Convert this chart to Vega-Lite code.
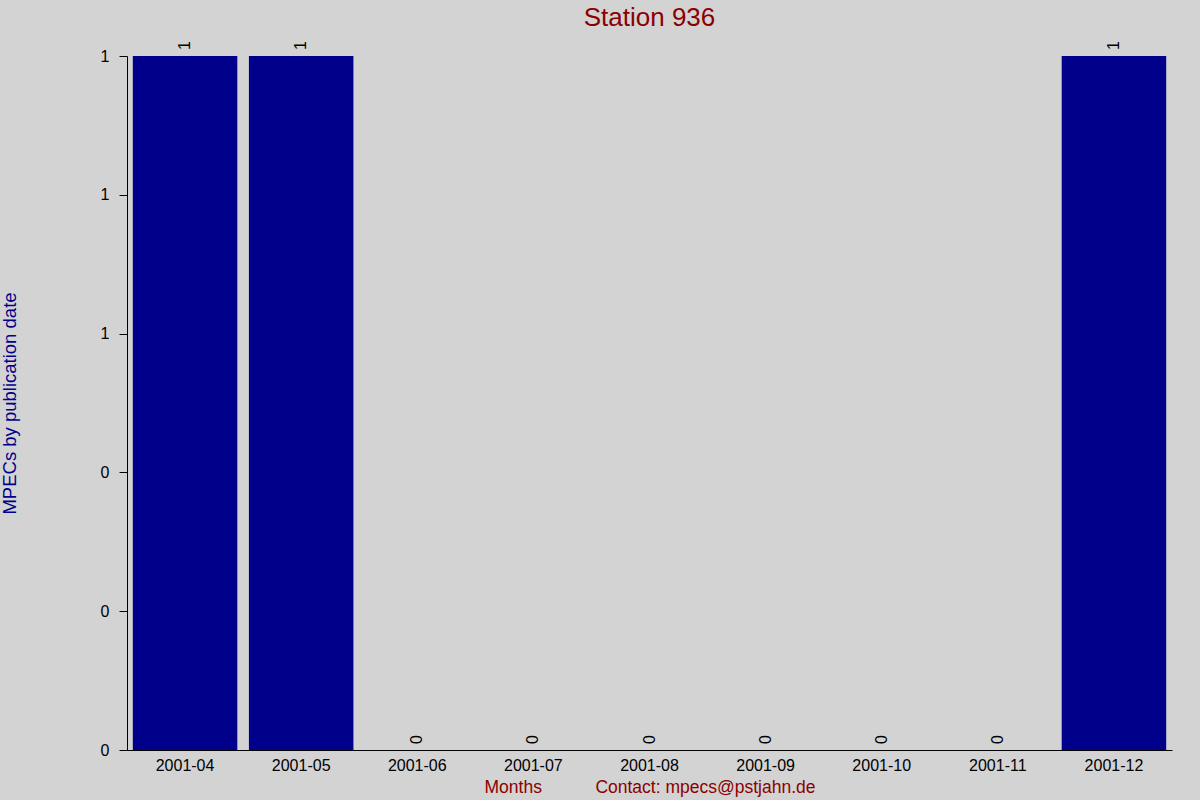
{
  "$schema": "https://vega.github.io/schema/vega-lite/v6.json",
  "autosize": "none",
  "width": 1045,
  "height": 694,
  "padding": {"left": 127, "top": 56, "right": 28, "bottom": 50},
  "background": "#d3d3d3",
  "title": {
    "text": "Station 936",
    "color": "#8b0000",
    "font": "Liberation Sans",
    "fontSize": 26,
    "fontWeight": "normal",
    "anchor": "middle",
    "offset": 10
  },
  "data": {
    "values": [
      {"month": "2001-04", "count": 1},
      {"month": "2001-05", "count": 1},
      {"month": "2001-06", "count": 0},
      {"month": "2001-07", "count": 0},
      {"month": "2001-08", "count": 0},
      {"month": "2001-09", "count": 0},
      {"month": "2001-10", "count": 0},
      {"month": "2001-11", "count": 0},
      {"month": "2001-12", "count": 1}
    ]
  },
  "encoding": {
    "x": {
      "field": "month",
      "type": "ordinal",
      "sort": null,
      "scale": {"paddingInner": 0.1, "paddingOuter": 0.05},
      "axis": {
        "title": "Months\u00a0\u00a0\u00a0\u00a0\u00a0\u00a0\u00a0\u00a0\u00a0\u00a0\u00a0Contact: mpecs@pstjahn.de",
        "titleColor": "#8b0000",
        "titleFontSize": 17.5,
        "titleFontWeight": "normal",
        "titlePadding": 5,
        "labelAngle": 0,
        "labelFontSize": 16,
        "labelColor": "black",
        "labelPadding": 7,
        "ticks": false,
        "domainColor": "black"
      }
    },
    "y": {
      "field": "count",
      "type": "quantitative",
      "scale": {"domain": [0, 1], "nice": false},
      "axis": {
        "title": "MPECs by publication date",
        "titleColor": "#00008b",
        "titleFontSize": 18.5,
        "titleFontWeight": "normal",
        "titleX": -108,
        "values": [0, 0.2, 0.4, 0.6, 0.8, 1],
        "format": ".0f",
        "labelFontSize": 16,
        "labelColor": "black",
        "labelPadding": 10,
        "tickSize": 8,
        "tickColor": "black",
        "domainColor": "black",
        "grid": false
      }
    }
  },
  "layer": [
    {"mark": {"type": "bar", "color": "#00008b"}},
    {
      "mark": {
        "type": "text",
        "angle": 270,
        "align": "left",
        "baseline": "middle",
        "dx": 6,
        "fontSize": 16,
        "color": "black",
        "font": "Liberation Sans"
      },
      "encoding": {"text": {"field": "count", "type": "quantitative"}}
    }
  ],
  "config": {
    "font": "Liberation Sans",
    "view": {"stroke": null}
  }
}
